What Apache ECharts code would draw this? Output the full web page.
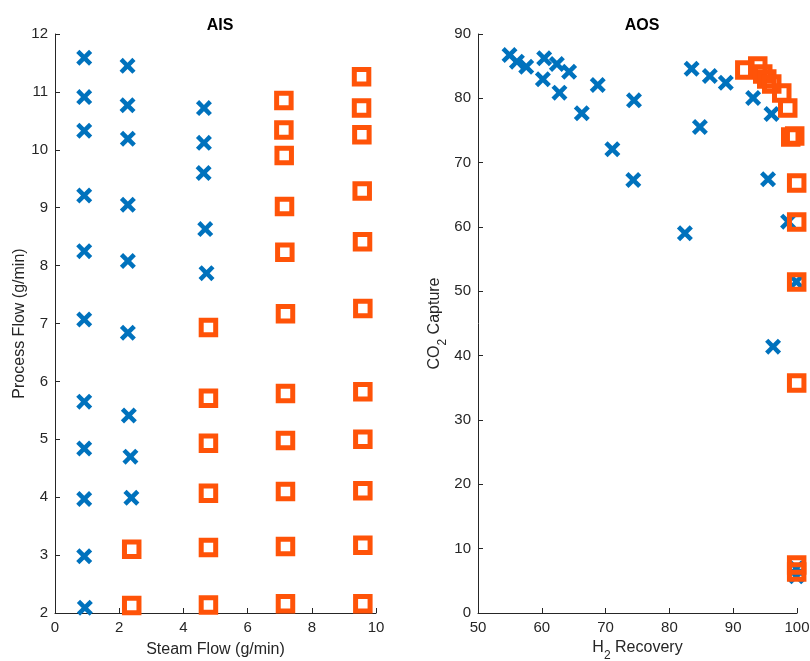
<!DOCTYPE html>
<html>
<head>
<meta charset="utf-8">
<script src="https://cdn.jsdelivr.net/npm/echarts@6/dist/echarts.min.js"></script>
<style>html,body{margin:0;padding:0;background:#fff}#c{width:810px;height:661px}</style>
</head>
<body>
<div id="c"></div>
<script>
// AIS panel (Steam Flow vs Process Flow)
const aisBlueX = [0.91,0.91,0.91,0.91,0.91,0.91,0.91,0.91,0.91,0.91,0.93,
                  2.26,2.26,2.27,2.27,2.27,2.27,2.30,2.35,2.38,
                  4.64,4.64,4.63,4.68,4.72];
const aisBlueY = [11.59,10.91,10.33,9.21,8.25,7.07,5.65,4.84,3.97,2.98,2.09,
                  11.45,10.77,10.19,9.05,8.08,6.84,5.41,4.70,3.99,
                  10.72,10.12,9.60,8.63,7.87];
const aisOrangeX = [2.39,2.39,
                    4.78,4.78,4.78,4.78,4.78,4.78,
                    7.13,7.13,7.14,7.15,7.16,7.18,7.18,7.18,7.18,7.18,7.18,
                    9.55,9.55,9.56,9.57,9.58,9.59,9.59,9.59,9.59,9.59,9.59];
const aisOrangeY = [3.10,2.13,
                    6.93,5.71,4.93,4.07,3.13,2.14,
                    10.85,10.34,9.90,9.02,8.23,7.17,5.79,4.98,4.10,3.15,2.16,
                    11.26,10.72,10.26,9.29,8.41,7.26,5.82,5.00,4.11,3.17,2.16];

// AOS panel (H2 Recovery vs CO2 Capture)
const aosBlueX = [54.94,56.10,57.56,60.37,60.17,62.36,64.28,62.77,68.77,66.27,74.45,71.06,74.34,
                  83.48,86.34,88.84,93.12,96.00,84.78,95.46,82.43,96.25,98.60,99.90,99.90,99.90];
const aosBlueY = [86.74,85.70,84.92,86.23,82.96,85.34,84.14,80.88,82.08,77.68,79.69,72.08,67.31,
                  84.61,83.47,82.43,80.06,77.57,75.55,67.42,59.02,41.40,60.83,51.50,6.95,5.70];
const aosOrangeX = [91.82,93.85,94.63,95.26,96.04,97.61,98.55,99.02,99.64,99.95,99.95,99.95,99.95,99.95,99.95];
const aosOrangeY = [84.41,85.03,83.79,83.01,82.23,80.83,78.50,74.00,74.15,66.84,60.78,51.45,35.75,7.46,6.37];

// Axis ticks
const aisXTicks = {min: 0, max: 10, interval: 2};
const aisYTicks = {min: 2, max: 12, interval: 1};
const aosXTicks = {min: 50, max: 100, interval: 10};
const aosYTicks = {min: 0, max: 90, interval: 10};

const BLUE = '#0072BD';
const ORANGE = '#FF5308';
const AX = '#262626';
const FONT = 'Liberation Sans';
const crossPath = 'path://M2,0 L5,3 L8,0 L10,2 L7,5 L10,8 L8,10 L5,7 L2,10 L0,8 L3,5 L0,2 Z';

function zip(xs, ys) { return xs.map((x, i) => [x, ys[i]]); }

function axisBase(t) {
  return {
    type: 'value', min: t.min, max: t.max, interval: t.interval,
    splitLine: {show: false},
    axisLine: {show: true, onZero: false, lineStyle: {color: AX, width: 1}},
    axisTick: {show: true, inside: true, length: 5, lineStyle: {color: AX}},
    axisLabel: {color: AX, fontFamily: FONT, fontSize: 15, margin: 7},
    nameLocation: 'middle',
    nameTextStyle: {color: AX, fontFamily: FONT, fontSize: 16}
  };
}

const subRich = {
  n: {fontSize: 16, fontFamily: FONT, color: AX, lineHeight: 22, verticalAlign: 'top'},
  s: {fontSize: 12, fontFamily: FONT, color: AX, lineHeight: 12, verticalAlign: 'bottom'}
};

const option = {
  animation: false,
  backgroundColor: '#ffffff',
  title: [
    {text: 'AIS', left: 215, top: 13, textAlign: 'center', textStyle: {fontFamily: FONT, fontSize: 16, fontWeight: 'bold', color: '#000'}},
    {text: 'AOS', left: 637, top: 13, textAlign: 'center', textStyle: {fontFamily: FONT, fontSize: 16, fontWeight: 'bold', color: '#000'}}
  ],
  grid: [
    {left: 55, right: 434, top: 34, bottom: 48, containLabel: false, outerBoundsMode: 'none'},
    {left: 478, right: 13, top: 34, bottom: 48, containLabel: false, outerBoundsMode: 'none'}
  ],
  xAxis: [
    Object.assign(axisBase(aisXTicks), {gridIndex: 0, name: 'Steam Flow (g/min)', nameGap: 29}),
    Object.assign(axisBase(aosXTicks), {gridIndex: 1, name: '{n|H}{s|2}{n| Recovery}', nameGap: 27,
      nameTextStyle: {color: AX, fontFamily: FONT, fontSize: 16, rich: subRich}})
  ],
  yAxis: [
    Object.assign(axisBase(aisYTicks), {gridIndex: 0, name: 'Process Flow (g/min)', nameGap: 26}),
    Object.assign(axisBase(aosYTicks), {gridIndex: 1, name: '{n|CO}{s|2}{n| Capture}', nameGap: 29,
      nameTextStyle: {color: AX, fontFamily: FONT, fontSize: 16, rich: subRich}})
  ],
  series: [
    {type: 'scatter', xAxisIndex: 0, yAxisIndex: 0, data: zip(aisBlueX, aisBlueY),
     symbol: crossPath, symbolSize: 16, itemStyle: {color: BLUE, opacity: 1}},
    {type: 'scatter', xAxisIndex: 0, yAxisIndex: 0, data: zip(aisOrangeX, aisOrangeY),
     symbol: 'rect', symbolSize: 14.5, itemStyle: {color: 'rgba(0,0,0,0)', borderColor: ORANGE, borderWidth: 5, opacity: 1}},
    {type: 'scatter', xAxisIndex: 1, yAxisIndex: 1, data: zip(aosBlueX, aosBlueY),
     symbol: crossPath, symbolSize: 16, itemStyle: {color: BLUE, opacity: 1}},
    {type: 'scatter', xAxisIndex: 1, yAxisIndex: 1, data: zip(aosOrangeX, aosOrangeY),
     symbol: 'rect', symbolSize: 14.5, itemStyle: {color: 'rgba(0,0,0,0)', borderColor: ORANGE, borderWidth: 5, opacity: 1}}
  ]
};

const chart = echarts.init(document.getElementById('c'), null, {renderer: 'canvas'});
chart.setOption(option);
</script>
</body>
</html>
